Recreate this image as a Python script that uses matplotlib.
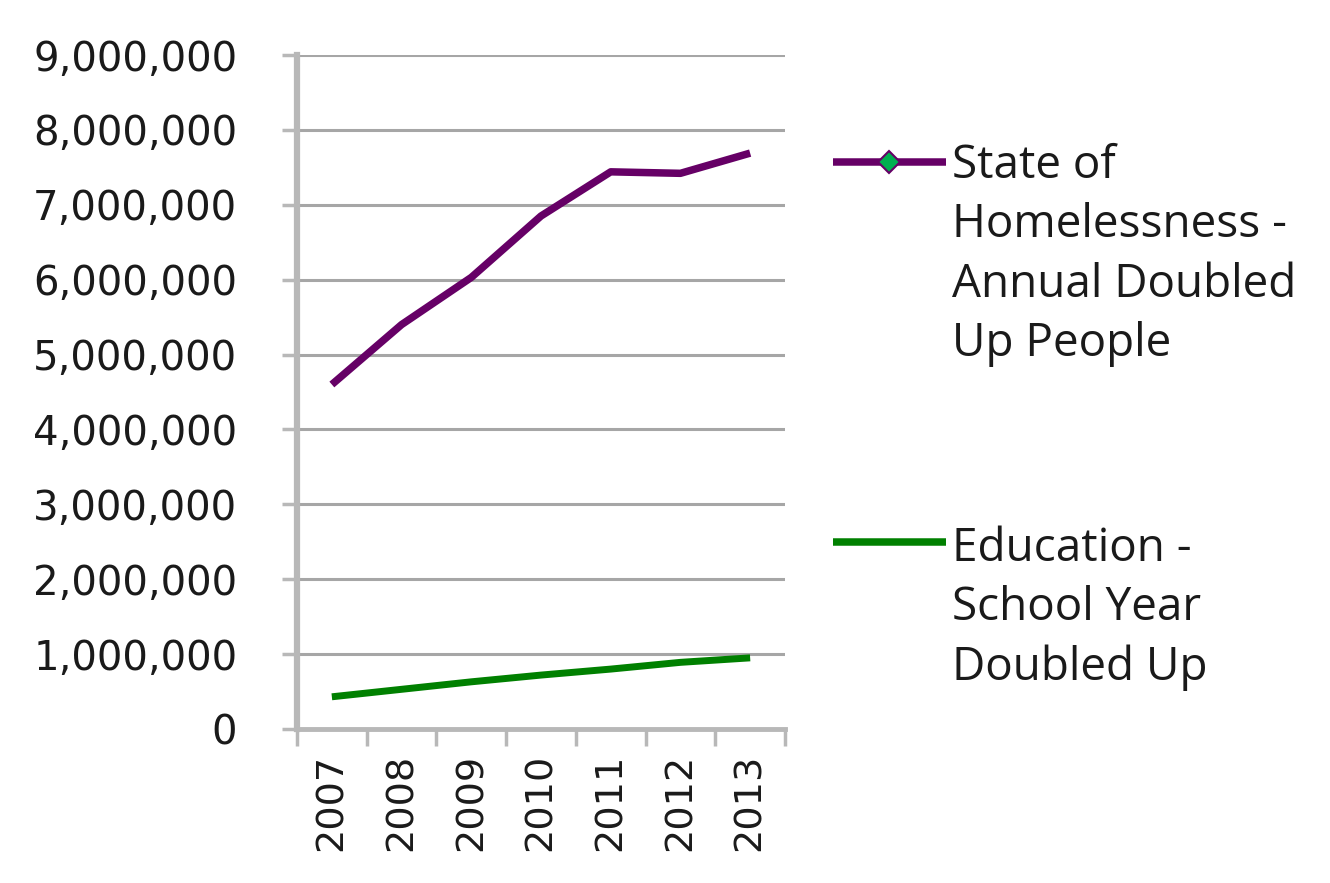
import matplotlib
matplotlib.use("Agg")
import matplotlib.pyplot as plt
from matplotlib.lines import Line2D
from matplotlib.ticker import FuncFormatter, FixedLocator

plt.rcParams["font.family"] = ["DejaVu Sans"]

years = ["2007", "2008", "2009", "2010", "2011", "2012", "2013"]
homeless_doubled_up = [4600000, 5400000, 6030000, 6850000, 7440000, 7420000, 7690000]
education_doubled_up = [430000, 530000, 630000, 720000, 800000, 890000, 950000]
legend_labels = ["State of\nHomelessness -\nAnnual Doubled\nUp People",
                 "Education -\nSchool Year\nDoubled Up"]
y_ticks = [0, 1000000, 2000000, 3000000, 4000000, 5000000, 6000000, 7000000, 8000000, 9000000]

purple = "#660066"
green = "#008000"
grid_c = "#a6a6a6"
axis_c = "#b8b8b8"
text_c = "#1a1a1a"

fig = plt.figure(figsize=(13.3, 8.83), dpi=100)
fig.patch.set_facecolor("white")
ax = fig.add_axes([297/1330, 1-729/883, (785-297)/1330, (729-55)/883])

x = list(range(len(years)))
ax.plot(x, homeless_doubled_up, color=purple, lw=5.4, solid_capstyle="butt", solid_joinstyle="round", zorder=3)
ax.plot(x, education_doubled_up, color=green, lw=5.0, solid_capstyle="butt", solid_joinstyle="round", zorder=3)

ax.set_xlim(-0.5, len(years) - 0.5)
ax.set_ylim(0, 9000000)
ax.set_yticks(y_ticks)
ax.yaxis.set_major_formatter(FuncFormatter(lambda v, p: "0" if v == 0 else f"{int(v):,}"))
ax.grid(axis="y", color=grid_c, lw=2.2)
ax.set_axisbelow(True)

ax.set_xticks(x)
ax.set_xticklabels(years, rotation=90, fontsize=27.5, color=text_c)
ax.xaxis.set_minor_locator(FixedLocator([i - 0.5 for i in range(len(years) + 1)]))
ax.tick_params(axis="x", which="major", length=0, pad=18)
ax.tick_params(axis="x", which="minor", length=12, width=2.5, color=axis_c)
ax.tick_params(axis="y", length=11, width=2.5, color=axis_c, pad=32, labelsize=29, labelcolor=text_c)

for s in ["top", "right"]:
    ax.spines[s].set_visible(False)
ax.spines["left"].set_color(axis_c)
ax.spines["left"].set_linewidth(4.5)
ax.spines["bottom"].set_color(axis_c)
ax.spines["bottom"].set_linewidth(3.5)

# Legend (drawn manually)
W, H = 1330, 883
def fx(px): return px / W
def fy(py): return 1 - py / H

fig.add_artist(Line2D([fx(833), fx(946)], [fy(162), fy(162)], color=purple, lw=5.4,
                      solid_capstyle="butt", transform=fig.transFigure))
fig.add_artist(Line2D([fx(889)], [fy(162)], color=purple, lw=0, marker="D", markersize=11,
                      markerfacecolor="#00b050", markeredgecolor=purple, markeredgewidth=1.5,
                      transform=fig.transFigure))
fig.add_artist(Line2D([fx(833), fx(946)], [fy(542), fy(542)], color=green, lw=5.4,
                      solid_capstyle="butt", transform=fig.transFigure))

fig.text(fx(952), fy(143), legend_labels[0], fontsize=33, family="Open Sans", color=text_c,
         va="top", ha="left", linespacing=1.38, transform=fig.transFigure)
fig.text(fx(952), fy(526), legend_labels[1], fontsize=33, family="Open Sans", color=text_c,
         va="top", ha="left", linespacing=1.38, transform=fig.transFigure)

fig.savefig("out.png", dpi=100, facecolor="white")
